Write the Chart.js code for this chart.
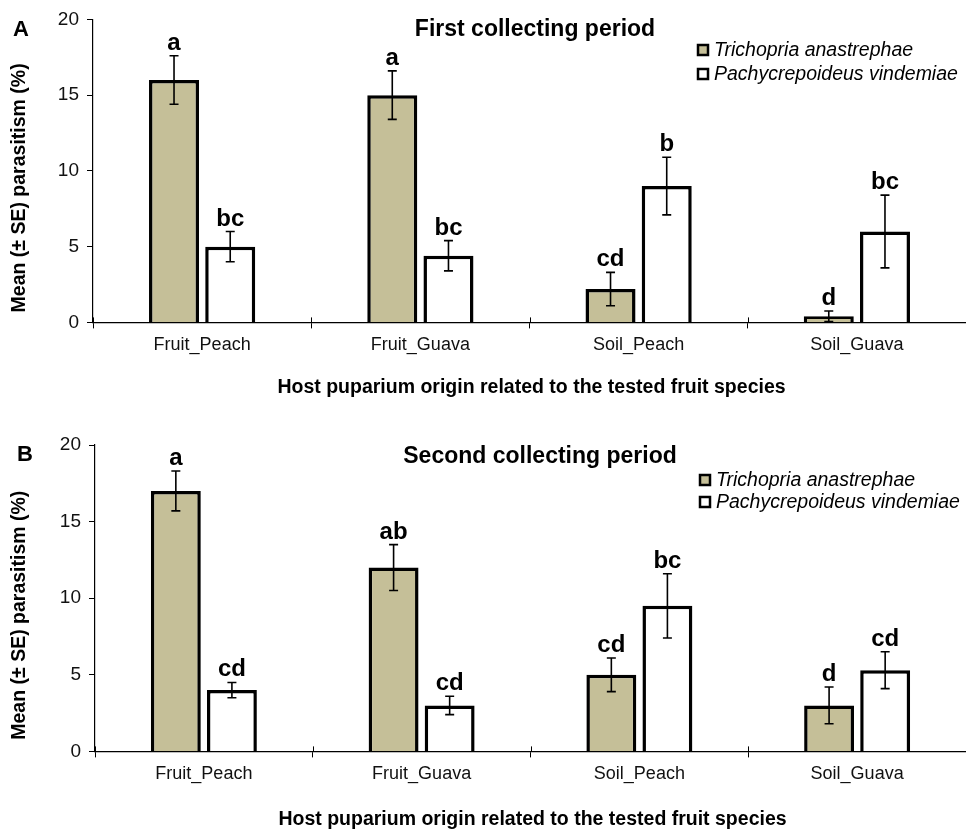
<!DOCTYPE html>
<html>
<head>
<meta charset="utf-8">
<script src="https://cdn.jsdelivr.net/npm/chart.js@4.4.1/dist/chart.umd.min.js"></script>
<style>
  body { margin: 0; background: #fff; }
  #wrapA { position: absolute; left: 0; top: 0; width: 966px; height: 400px; }
  #wrapB { position: absolute; left: 0; top: 415px; width: 966px; height: 415px; }
</style>
</head>
<body>
<div id="wrapA"><canvas id="chartA"></canvas></div>
<div id="wrapB"><canvas id="chartB"></canvas></div>
<script>
// data
var categories = ['Fruit_Peach', 'Fruit_Guava', 'Soil_Peach', 'Soil_Guava'];
var seriesNames = ['Trichopria anastrephae', 'Pachycrepoideus vindemiae'];
var yTicks = [0, 5, 10, 15, 20];

// first collecting period
var aTricho = [16, 15, 2.2, 0.4];
var aTrichoSE = [1.6, 1.6, 1.1, 0.35];
var aTrichoLetters = ['a', 'a', 'cd', 'd'];
var aPachy = [5, 4.4, 9, 6];
var aPachySE = [1, 1, 1.9, 2.4];
var aPachyLetters = ['bc', 'bc', 'b', 'bc'];

// second collecting period
var bTricho = [17, 12, 5, 3];
var bTrichoSE = [1.3, 1.5, 1.1, 1.2];
var bTrichoLetters = ['a', 'ab', 'cd', 'd'];
var bPachy = [4, 3, 9.5, 5.3];
var bPachySE = [0.5, 0.6, 2.1, 1.2];
var bPachyLetters = ['cd', 'cd', 'bc', 'cd'];

var TAN = '#c5bf98';
var FONT = "'Liberation Sans', Arial, sans-serif";

var errorBarPlugin = {
    id: 'errorBars',
    afterDatasetsDraw: function(chart) {
        var ctx = chart.ctx;
        var x = chart.scales.x;
        var y = chart.scales.y;
        var area = chart.chartArea;
        var extra = chart.options.plugins.errorBars;
        ctx.save();
        // category tick marks cross the axis line
        ctx.strokeStyle = '#000';
        ctx.lineWidth = 1;
        ctx.beginPath();
        for (var k = 0; k <= categories.length; k++) {
            var px = k == 0 ? area.left : (k == categories.length ? area.right : (x.getPixelForValue(k - 1) + x.getPixelForValue(k)) / 2);
            px = Math.round(px) + 0.5;
            ctx.moveTo(px, area.bottom - 5);
            ctx.lineTo(px, area.bottom);
        }
        ctx.stroke();
        chart.data.datasets.forEach(function(ds, i) {
            var meta = chart.getDatasetMeta(i);
            meta.data.forEach(function(bar, j) {
                var v = ds.data[j];
                var se = ds.se[j];
                var top = y.getPixelForValue(v + se);
                var bot = y.getPixelForValue(v - se);
                ctx.strokeStyle = '#000';
                ctx.lineWidth = 1.6;
                ctx.beginPath();
                ctx.moveTo(bar.x, top); ctx.lineTo(bar.x, bot);
                ctx.moveTo(bar.x - 4.5, top); ctx.lineTo(bar.x + 4.5, top);
                ctx.moveTo(bar.x - 4.5, bot); ctx.lineTo(bar.x + 4.5, bot);
                ctx.stroke();
                ctx.fillStyle = '#000';
                ctx.font = 'bold 24px ' + FONT;
                ctx.textAlign = 'center';
                ctx.textBaseline = 'alphabetic';
                ctx.fillText(ds.letters[j], bar.x, top - 6);
            });
        });
        ctx.fillStyle = '#000';
        ctx.textBaseline = 'middle';
        // panel title
        ctx.font = 'bold 23px ' + FONT;
        ctx.textAlign = 'center';
        ctx.fillText(extra.title, extra.titleX, extra.titleY);
        // x axis title
        ctx.font = 'bold 19.5px ' + FONT;
        ctx.fillText('Host puparium origin related to the tested fruit species', (area.left + area.right) / 2 + 2, extra.xTitleY);
        // y axis title
        ctx.save();
        ctx.translate(20, (area.top + area.bottom) / 2 + 17);
        ctx.rotate(-Math.PI / 2);
        ctx.fillText('Mean (\u00b1 SE) parasitism (%)', 0, 0);
        ctx.restore();
        // panel letter
        ctx.font = 'bold 22px ' + FONT;
        ctx.textAlign = 'left';
        ctx.fillText(extra.panel, extra.panelX, extra.panelY);
        // legend
        ctx.font = 'italic 19.5px ' + FONT;
        chart.data.datasets.forEach(function(ds, i) {
            var ly = extra.legendY + i * extra.legendGap;
            ctx.fillStyle = ds.backgroundColor;
            ctx.fillRect(extra.legendX, ly - 5, 10, 10);
            ctx.strokeStyle = '#000';
            ctx.lineWidth = 2.5;
            ctx.strokeRect(extra.legendX, ly - 5, 10, 10);
            ctx.fillStyle = '#000';
            ctx.fillText(ds.label, extra.legendX + 16, ly + 1);
        });
        ctx.restore();
    }
};

function makePanel(id, tricho, trichoSE, trichoL, pachy, pachySE, pachyL, extra) {
    var ctx = document.getElementById(id).getContext('2d');
    return new Chart(ctx, {
        type: 'bar',
        data: {
            labels: categories,
            datasets: [{
                label: seriesNames[0],
                data: tricho,
                se: trichoSE,
                letters: trichoL,
                backgroundColor: TAN,
                borderColor: '#000',
                borderWidth: 3.5
            }, {
                label: seriesNames[1],
                data: pachy,
                se: pachySE,
                letters: pachyL,
                backgroundColor: '#ffffff',
                borderColor: '#000',
                borderWidth: 3.5
            }]
        },
        options: {
            responsive: true,
            maintainAspectRatio: false,
            animation: false,
            layout: { padding: { top: extra.padTop, right: 0, bottom: extra.padBottom, left: 0 } },
            categoryPercentage: 0.515,
            barPercentage: 0.89,
            plugins: {
                legend: { display: false },
                tooltip: { enabled: false },
                errorBars: extra
            },
            scales: {
                x: {
                    grid: { display: true, drawOnChartArea: false, offset: true, tickLength: 6, color: '#000', lineWidth: 1 },
                    border: { color: '#000', width: 1.2 },
                    ticks: { color: '#111', font: { family: FONT, size: 18 }, padding: 6 }
                },
                y: {
                    min: 0,
                    max: 20,
                    afterBuildTicks: function(scale) {
                        scale.ticks = yTicks.map(function(v) { return { value: v }; });
                    },
                    afterFit: function(scale) { scale.width = extra.yWidth; },
                    grid: { display: true, drawOnChartArea: false, tickLength: 6, color: '#000', lineWidth: 1 },
                    border: { color: '#000', width: 1.2 },
                    ticks: { color: '#111', font: { family: FONT, size: 19 }, padding: 8 }
                }
            }
        },
        plugins: [errorBarPlugin]
    });
}

makePanel('chartA', aTricho, aTrichoSE, aTrichoLetters, aPachy, aPachySE, aPachyLetters, {
    title: 'First collecting period', titleX: 535, titleY: 30,
    panel: 'A', panelX: 13, panelY: 30,
    legendX: 698, legendY: 50, legendGap: 24,
    xTitleY: 388,
    padTop: 19, padBottom: 38, yWidth: 93
});

makePanel('chartB', bTricho, bTrichoSE, bTrichoLetters, bPachy, bPachySE, bPachyLetters, {
    title: 'Second collecting period', titleX: 540, titleY: 42,
    panel: 'B', panelX: 17, panelY: 40,
    legendX: 700, legendY: 65, legendGap: 22,
    xTitleY: 405,
    padTop: 30, padBottom: 39, yWidth: 95
});
</script>
</body>
</html>
